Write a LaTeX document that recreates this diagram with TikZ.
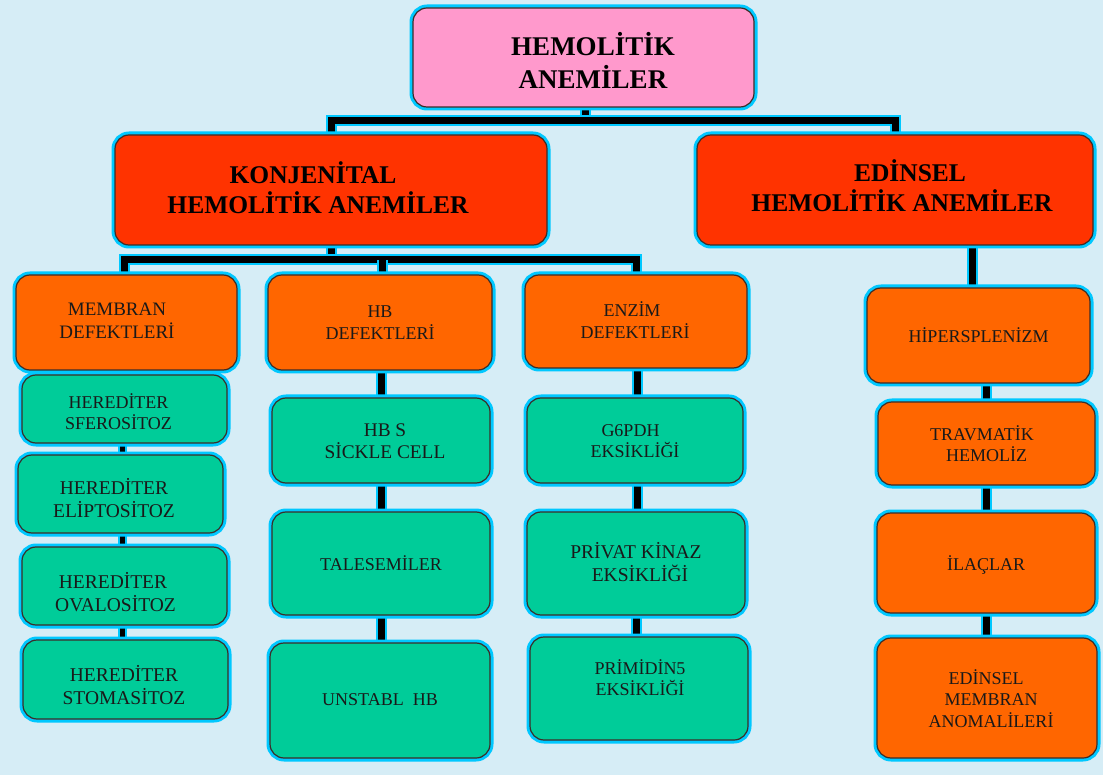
\documentclass[tikz,border=0pt]{standalone}
\usepackage{fontspec}
\setmainfont{Liberation Serif}
\pgfdeclarelayer{back}
\pgfdeclarelayer{bg}
\pgfsetlayers{back,bg,main}
\definecolor{bgblue}{RGB}{214,237,246}
\definecolor{glow}{RGB}{0,200,255}
\definecolor{pinkbox}{RGB}{255,153,204}
\definecolor{redbox}{RGB}{255,51,0}
\definecolor{orangebox}{RGB}{255,102,0}
\definecolor{greenbox}{RGB}{0,204,153}
\definecolor{edge}{RGB}{60,45,40}
% #1 = twice the horizontal shift, #2 = vertical raise, #3 = lines
\newcommand{\tx}[3]{\hspace*{#1}\raisebox{#2}[\height][\depth]{\begin{tabular}{@{}c@{}}#3\end{tabular}}}
\begin{document}
\begin{tikzpicture}[x=1pt,y=-1pt,
  box/.style={draw=edge, line width=1.2pt, rounded corners=14pt, inner sep=0pt,
    preaction={draw=glow, line width=7pt}},
  sz/.style 2 args={minimum width=#1, minimum height=#2},
  bigtxt/.style={font=\fontsize{27}{33}\selectfont\bfseries},
  midtxt/.style={font=\fontsize{25.5}{28.5}\selectfont\bfseries},
  smalltxt/.style={font=\fontsize{18}{21.5}\selectfont, text=black!90},
  largetxt/.style={font=\fontsize{19.5}{22}\selectfont, text=black!90},
  topbox/.style={box, fill=pinkbox, bigtxt},
  redb/.style={box, fill=redbox, midtxt},
  orb/.style={box, fill=orangebox, smalltxt},
  grb/.style={box, fill=greenbox, smalltxt},
  conn/.style={line width=7pt, black, line join=miter, preaction={draw=glow, line width=11pt}},
  thinconn/.style={line width=5pt, black, preaction={draw=glow, line width=9pt}},
]
\begin{pgfonlayer}{back}
\fill[bgblue] (0,0) rectangle (1103,775);
\end{pgfonlayer}

% level 1
\node[topbox, sz={341pt}{99pt}] (top) at (583.5,57.5) {\tx{19pt}{-8.3pt}{HEMOLİTİK\\ANEMİLER}};

% level 2
\node[redb, sz={432pt}{110pt}] (konj) at (331,190) {\tx{-26pt}{-1.7pt}{\hspace*{-10pt}KONJENİTAL\\HEMOLİTİK ANEMİLER}};
\node[redb, sz={396pt}{110pt}] (edin) at (895,190) {\tx{14pt}{0pt}{\hspace*{16pt}EDİNSEL\\HEMOLİTİK ANEMİLER}};

% level 3
\node[orb, sz={221pt}{95pt}, font=\fontsize{19}{22}\selectfont] (memb) at (126.5,322.5) {\tx{-19pt}{0pt}{MEMBRAN\\DEFEKTLERİ}};
\node[orb, sz={224pt}{95pt}] (hb) at (380,322.5) {\tx{0pt}{-1.5pt}{HB\\DEFEKTLERİ}};
\node[orb, sz={222pt}{93pt}] (enz) at (636,321.5) {\tx{-2pt}{-1.5pt}{\hspace*{-6pt}ENZİM\\DEFEKTLERİ}};
\node[orb, sz={223pt}{95pt}] (hiper) at (978.5,335.5) {\tx{0pt}{-3.1pt}{HİPERSPLENİZM}};

% column 1
\node[grb, sz={205pt}{68pt}] (g1) at (124.5,409) {\tx{-12pt}{-5.6pt}{HEREDİTER\\SFEROSİTOZ}};
\node[grb, sz={205pt}{78pt}, largetxt] (g2) at (120.5,494) {\tx{-13pt}{-7pt}{HEREDİTER\\ELİPTOSİTOZ}};
\node[grb, sz={205pt}{78pt}, largetxt] (g3) at (124.5,586) {\tx{-18pt}{-9pt}{\hspace*{-5pt}HEREDİTER\\OVALOSİTOZ}};
\node[grb, sz={205pt}{79pt}, largetxt] (g4) at (125.5,679.5) {\tx{-3pt}{-8.5pt}{HEREDİTER\\STOMASİTOZ}};

% column 2
\node[grb, sz={218pt}{85pt}, font=\fontsize{19.3}{22}\selectfont] (h1) at (381,440.5) {\tx{8pt}{-2.5pt}{HB S\\SİCKLE CELL}};
\node[grb, sz={218pt}{103pt}] (h2) at (381,563.5) {\tx{0pt}{-3.1pt}{TALESEMİLER}};
\node[grb, sz={220pt}{115pt}] (h3) at (380,700.5) {\tx{0pt}{-1.1pt}{UNSTABL\ \ HB}};

% column 3
\node[grb, sz={216pt}{85pt}] (e1) at (635,440.5) {\tx{0pt}{-2.1pt}{\hspace*{-9pt}G6PDH\\EKSİKLİĞİ}};
\node[grb, sz={218pt}{103pt}, font=\fontsize{19.5}{21.5}\selectfont] (e2) at (636,563.5) {\tx{0pt}{-1.6pt}{PRİVAT KİNAZ\\\hspace*{8pt}EKSİKLİĞİ}};
\node[grb, sz={218pt}{103pt}] (e3) at (639,688.5) {\tx{2pt}{7.9pt}{PRİMİDİN5\\EKSİKLİĞİ}};

% column 4
\node[orb, sz={217pt}{83pt}] (a1) at (986.5,443.5) {\tx{0pt}{-3.1pt}{\hspace*{-9pt}TRAVMATİK\\HEMOLİZ}};
\node[orb, sz={218pt}{100pt}] (a2) at (986,563) {\tx{0pt}{-3.6pt}{İLAÇLAR}};
\node[orb, sz={220pt}{120pt}] (a3) at (987,698) {\tx{8pt}{-3.6pt}{\hspace*{-10pt}EDİNSEL\\MEMBRAN\\ANOMALİLERİ}};

\coordinate (b1) at (585,121);
\coordinate (b2) at (331,260);

\begin{pgfonlayer}{bg}
\draw[conn] (top.south -| b1) -- (b1);
\draw[conn] (konj.north) |- (b1) -| (edin.north);
\draw[conn] (konj.south) -- (b2);
\draw[conn] ([xshift=-2pt]memb.north) |- (b2) -| (enz.north);
\draw[conn] ([xshift=2pt]hb.north) -- ([xshift=2pt]hb.north |- b2);
\draw[conn] ([xshift=-6pt]hiper.north) -- ([xshift=-6pt]hiper.north |- edin.south);
\draw[thinconn] ([xshift=-2pt]memb.south) -- ([xshift=-2pt]memb.south |- g1.north);
\draw[thinconn] ([xshift=-2pt]g1.south) -- ([xshift=-2pt]g1.south |- g2.north);
\draw[thinconn] ([xshift=2pt]g2.south) -- ([xshift=2pt]g2.south |- g3.north);
\draw[thinconn] ([xshift=-2pt]g3.south) -- ([xshift=-2pt]g3.south |- g4.north);
\draw[conn] (h1.north) -- (h1.north |- hb.south);
\draw[conn] (h1.south) -- (h1.south |- h2.north);
\draw[conn] (h2.south) -- (h2.south |- h3.north);
\draw[conn] ([xshift=2pt]e1.north) -- ([xshift=2pt]e1.north |- enz.south);
\draw[conn] ([xshift=2pt]e1.south) -- ([xshift=2pt]e1.south |- e2.north);
\draw[conn] (e2.south) -- (e2.south |- e3.north);
\draw[conn] (a1.north) -- (a1.north |- hiper.south);
\draw[conn] (a1.south) -- (a1.south |- a2.north);
\draw[conn] (a2.south) -- (a2.south |- a3.north);
\end{pgfonlayer}
\end{tikzpicture}
\end{document}
